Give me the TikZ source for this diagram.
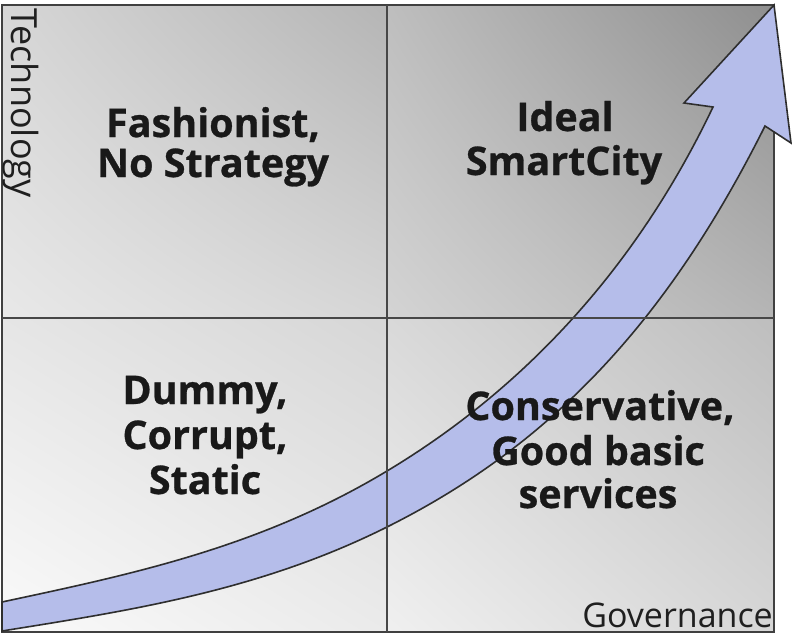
\documentclass[tikz,border=0pt]{standalone}
\usepackage{fontspec}
\setmainfont{Open Sans}[BoldFeatures={FakeBold=0.7}]
\usetikzlibrary{shadings}
\definecolor{arrowblue}{HTML}{B5BDEA}
\definecolor{tlul}{gray}{0.84}\definecolor{tlur}{gray}{0.71}\definecolor{tlll}{gray}{0.91}\definecolor{tllr}{gray}{0.84}
\definecolor{trul}{gray}{0.745}\definecolor{trur}{gray}{0.56}\definecolor{trll}{gray}{0.83}\definecolor{trlr}{gray}{0.71}
\definecolor{blul}{gray}{0.90}\definecolor{blur}{gray}{0.84}\definecolor{blll}{gray}{0.98}\definecolor{bllr}{gray}{0.92}
\definecolor{brul}{gray}{0.85}\definecolor{brur}{gray}{0.745}\definecolor{brll}{gray}{0.94}\definecolor{brlr}{gray}{0.84}
\begin{document}
\begin{tikzpicture}[x=1pt,y=-1pt,
  grid/.style={draw=black!72,line width=2.6pt},
  frame/.style={draw=black!75,line width=2pt},
  arr/.style={fill=arrowblue,draw=black!82,line width=1.6pt,line join=miter},
  big/.style={font=\fontsize{39.5}{42}\selectfont\bfseries,text=black!90,inner sep=0pt,anchor=base},
  axis/.style={text=black!88,inner sep=0pt}]
\useasboundingbox (0,0) rectangle (792,634);
% quadrants
\shade[upper left=tlul,upper right=tlur,lower left=tlll,lower right=tllr] (2,5) rectangle (387,318);
\shade[upper left=trul,upper right=trur,lower left=trll,lower right=trlr] (387,5) rectangle (774,318);
\shade[upper left=blul,upper right=blur,lower left=blll,lower right=bllr] (2,318) rectangle (387,632);
\shade[upper left=brul,upper right=brur,lower left=brll,lower right=brlr] (387,318) rectangle (774,632);
\draw[frame] (2,5) rectangle (774,632);
% arrow
\filldraw[arr] (2,631) -- (2,602)
  .. controls (130,574.6) and (259,548) .. (387,471)
  .. controls (517,393) and (633,275) .. (713,107)
  -- (684,103) -- (774,5) -- (791,143) -- (765,126)
  .. controls (665,326) and (547,447) .. (387,527)
  .. controls (259,591) and (130,610.5) .. (2,631) -- cycle;
% dividers
\coordinate (vt) at (387,5); \coordinate (vb) at (387,632);
\coordinate (hl) at (2,318); \coordinate (hr) at (774,318);
\draw[grid] (vt) -- (vb);
\draw[grid] (hl) -- (hr);
% texts
\node[big] (f1) at (213,137) {Fashionist,};
\node[big] (f2) at (213,177) {No Strategy};
\node[big] (i1) at (565,131) {Ideal};
\node[big] (i2) at (564,175) {SmartCity};
\node[big] (d1) at (205,404) {Dummy,};
\node[big] (d2) at (205,449) {Corrupt,};
\node[big] (d3) at (205,494) {Static};
\node[big] (c1) at (600,420) {Conservative,};
\node[big] (c2) at (598,465) {Good basic};
\node[big] (c3) at (598,508) {services};
\node[axis,font=\fontsize{36}{40}\selectfont,anchor=base west,rotate=-90] (tech) at (12,8) {Technology};
\node[axis,font=\fontsize{34}{38}\selectfont,anchor=base east] (gov) at (773,627) {Governance};
\end{tikzpicture}
\end{document}
